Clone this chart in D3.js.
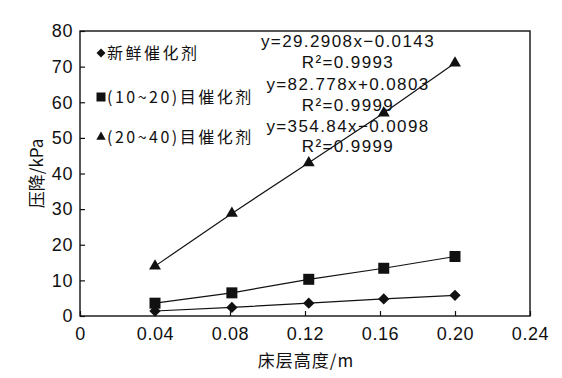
<!DOCTYPE html>
<html>
<head>
<meta charset="utf-8">
<script src="https://cdn.jsdelivr.net/npm/d3@7"></script>
<style>
  body { margin: 0; background: #fff; }
  svg text { font-family: "Liberation Sans", Arial, sans-serif; fill: #111; }
  .cjk { font-family: "Noto Sans CJK SC", sans-serif; }
</style>
</head>
<body>
<svg id="chart" width="562" height="378"></svg>
<script>
// bed height (m) and pressure drop (kPa)
var heights = [0.04, 0.081, 0.122, 0.162, 0.20]
var fresh = [1.4, 2.4, 3.6, 4.8, 5.8]
var mesh10to20 = [3.6, 6.5, 10.3, 13.4, 16.7]
var mesh20to40 = [14.0, 28.8, 43.0, 57.0, 71.0]
var seriesNames = ['新鲜催化剂', '(10~20)目催化剂', '(20~40)目催化剂']
var xTicks = [0, 0.04, 0.08, 0.12, 0.16, 0.20, 0.24]
var yTicks = [0, 10, 20, 30, 40, 50, 60, 70, 80]
var fitLines = ['y=29.2908x\u22120.0143', 'R²=0.9993', 'y=82.778x+0.0803', 'R²=0.9999', 'y=354.84x\u22120.0098', 'R²=0.9999']

var svg = d3.select('#chart')
var margin = {top: 31, right: 32, bottom: 62, left: 80}
var width = 562 - margin.left - margin.right
var height = 378 - margin.top - margin.bottom
var g = svg.append('g')
  .attr('transform', 'translate(' + margin.left + ',' + margin.top + ')')

var x = d3.scaleLinear().domain([0, 0.24]).range([0, width])
var y = d3.scaleLinear().domain([0, 80]).range([height, 0])

// frame
g.append('rect')
  .attr('width', width).attr('height', height)
  .attr('fill', 'none').attr('stroke', '#111').attr('stroke-width', 1.4)

// x axis, ticks pointing inward
var xAxis = g.append('g')
  .attr('transform', 'translate(0,' + height + ')')
  .call(d3.axisBottom(x).tickValues(xTicks)
    .tickSizeInner(-5).tickSizeOuter(0).tickPadding(11)
    .tickFormat((d) => d === 0 ? '0' : d3.format('.2f')(d)))
xAxis.select('.domain').remove()
xAxis.selectAll('line').attr('stroke', '#111').attr('stroke-width', 1.2)
xAxis.selectAll('text')
  .attr('font-size', 18).attr('letter-spacing', '0.6px')
  .attr('fill', '#111')

// y axis, ticks pointing inward
var yAxis = g.append('g')
  .call(d3.axisLeft(y).tickValues(yTicks)
    .tickSizeInner(-5).tickSizeOuter(0).tickPadding(7))
yAxis.select('.domain').remove()
yAxis.selectAll('line').attr('stroke', '#111').attr('stroke-width', 1.2)
yAxis.selectAll('text')
  .attr('font-size', 18).attr('letter-spacing', '0.6px')
  .attr('fill', '#111')

// axis titles
svg.append('text')
  .attr('class', 'cjk')
  .attr('transform', 'translate(43,' + (margin.top + height / 2) + ') rotate(-90)')
  .attr('text-anchor', 'middle')
  .attr('font-size', 17)
  .text('压降/kPa')

svg.append('text')
  .attr('class', 'cjk')
  .attr('x', margin.left + width / 2 + 1).attr('y', 367)
  .attr('text-anchor', 'middle')
  .attr('font-size', 17)
  .attr('letter-spacing', '1px')
  .text('床层高度/m')

// series (diamond = square turned 45 degrees)
var series = [
  {values: fresh, symbol: d3.symbolSquare, size: 64, legendSize: 40, rotate: 45},
  {values: mesh10to20, symbol: d3.symbolSquare, size: 121, legendSize: 81, rotate: 0},
  {values: mesh20to40, symbol: d3.symbolTriangle, size: 62, legendSize: 38, rotate: 0}
]

var line = d3.line()
  .x((d) => x(d[0]))
  .y((d) => y(d[1]))

series.forEach(function (s) {
  var pts = heights.map((h, i) => [h, s.values[i]])
  g.append('path')
    .datum(pts)
    .attr('fill', 'none')
    .attr('stroke', '#111')
    .attr('stroke-width', 1.2)
    .attr('d', line)
  g.selectAll(null)
    .data(pts)
    .enter()
    .append('path')
    .attr('d', d3.symbol().type(s.symbol).size(s.size))
    .attr('transform', (d) => 'translate(' + x(d[0]) + ',' + y(d[1]) + ') rotate(' + s.rotate + ')')
    .attr('fill', '#111')
})

// legend
var legendY = [53, 97, 137]
series.forEach(function (s, i) {
  svg.append('path')
    .attr('d', d3.symbol().type(s.symbol).size(s.legendSize))
    .attr('transform', 'translate(101,' + legendY[i] + ') rotate(' + s.rotate + ')')
    .attr('fill', '#111')
  svg.append('text')
    .attr('class', 'cjk')
    .attr('x', 107).attr('y', legendY[i] + 6)
    .attr('font-size', 16)
    .attr('letter-spacing', '2.5px')
    .text(seriesNames[i])
})

// fitted equations
var fitY = [47, 68, 90, 111, 132, 152]
fitLines.forEach(function (t, i) {
  svg.append('text')
    .attr('x', 348).attr('y', fitY[i])
    .attr('text-anchor', 'middle')
    .attr('font-size', 17)
    .attr('letter-spacing', '1.4px')
    .text(t)
})
</script>
</body>
</html>
